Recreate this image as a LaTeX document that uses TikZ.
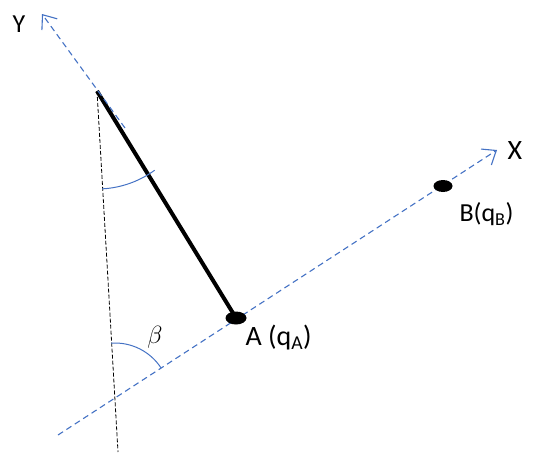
\documentclass[tikz,border=0pt]{standalone}
\usepackage{fontspec}
\setmainfont{Carlito}
\usetikzlibrary{arrows.meta,positioning,shapes.geometric}
\definecolor{axisBlue}{HTML}{4472C4}

\begin{document}
\begin{tikzpicture}[x=1pt,y=-1pt,font=\fontsize{26}{30}\selectfont,
  axis/.style={draw=axisBlue,line width=1.1pt,dash pattern=on 6pt off 4pt,
               -{Straight Barb[length=12pt,width=19pt]}},
  plumb/.style={draw=black,line width=0.8pt,dash pattern=on 4pt off 2pt},
  mass/.style={ellipse,fill=black,minimum width=21pt,minimum height=13pt,inner sep=0pt},
  arcline/.style={draw=axisBlue,line width=1pt}]
  \useasboundingbox (0,0) rectangle (540,455);
  % frame points
  \coordinate (xs) at (58,435);
  \coordinate (xe) at (497,150);
  \coordinate (ys) at (125,128);
  \coordinate (ye) at (42,14);
  \coordinate (top) at (97,91);
  \coordinate (foot) at (118,452);
  \coordinate (cross) at (115,398);
  \coordinate (pA) at (236,318);
  % rod and plumb line
  \draw[line width=4pt] (top) -- (pA);
  \draw[plumb] (top) -- (foot);
  % axes
  \draw[axis] (xs) -- (xe);
  \draw[axis] (ys) -- (ye);
  % masses
  \node[mass] (A) at (pA) {};
  \node[mass,minimum width=19pt,minimum height=12pt] (B) at (443,186) {};
  % angles
  \draw[arcline] (top) ++(87:98) arc[start angle=87,end angle=54,radius=98];
  \draw[arcline] (cross) ++(-94:55) arc[start angle=-94,end angle=-33,radius=55];
  % labels
  \node[font=\fontsize{28}{30}\selectfont] (lX) at (515,151) {X};
  \node[anchor=west] (lY) at (9,24) {Y};
  \node[anchor=west,font=\fontsize{28}{32}\selectfont] (lA) at (242,338) {A (q\textsubscript{A})};
  \node[anchor=west] (lB) at (456,214) {B(q\textsubscript{B})};
  \node (lbeta) at (155,337) {$\beta$};
\end{tikzpicture}
\end{document}
